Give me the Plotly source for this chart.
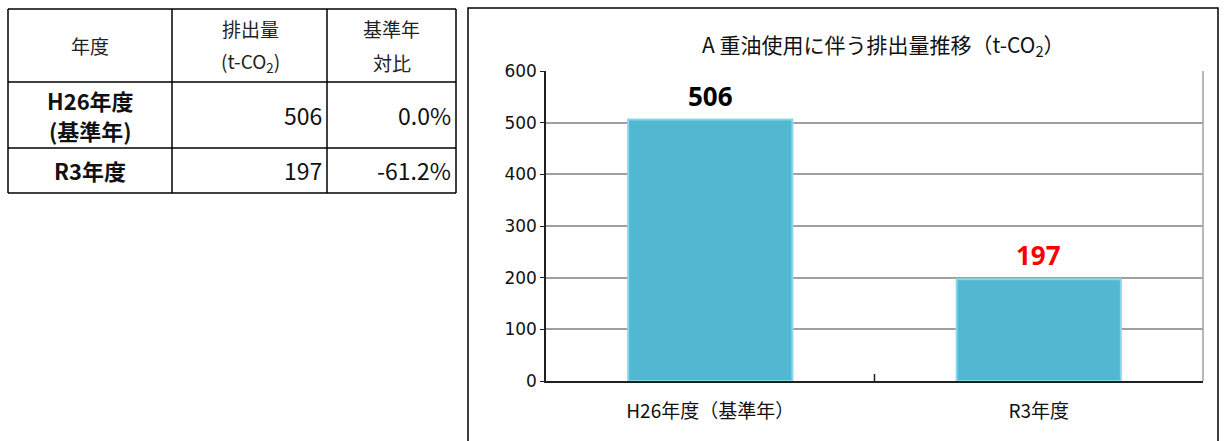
import plotly.graph_objects as go

# ---- data ----
years = ["H26年度（基準年）", "R3年度"]
emissions = [506, 197]
table_year_lines = [["H26年度", "(基準年)"], ["R3年度"]]
ratio_labels = ["0.0%", "-61.2%"]
label_colors = ["#000000", "#FF0000"]
y_ticks = [0, 100, 200, 300, 400, 500, 600]

W, H = 1227, 441


def px(x):
    return x / W


def py(y):
    return 1 - y / H


JP = "Noto Sans CJK JP, Noto Sans, sans-serif"
TICK = "DejaVu Sans, Noto Sans, sans-serif"

fig = go.Figure()

fig.add_trace(go.Bar(
    x=years,
    y=emissions,
    width=0.5,
    marker=dict(color="#52B7D1", line=dict(color="#86D9EC", width=2)),
    showlegend=False,
    hoverinfo="skip",
))

# value labels above the bars
for cat, val, col in zip(years, emissions, label_colors):
    fig.add_annotation(
        x=cat, y=val, xref="x", yref="y", text=f"<b>{val}</b>",
        showarrow=False, yanchor="middle", yshift=24,
        font=dict(family="Noto Sans, sans-serif", size=26, color=col),
    )

shapes = []
annotations = []

# chart frame
shapes.append(dict(type="rect", xref="paper", yref="paper",
                   x0=px(468), x1=px(1218), y0=py(470), y1=py(8),
                   line=dict(color="#000000", width=1.5)))

# chart title
annotations.append(dict(
    x=px(883), y=py(45),
    text="A 重油使用に伴う排出量推移（t-CO<sub>2</sub>）",
    font=dict(family=JP, size=21, color="#111111"),
))

# middle tick on the category axis
shapes.append(dict(type="line", xref="paper", yref="paper",
                   x0=px(874.5), x1=px(874.5), y0=py(381), y1=py(374),
                   line=dict(color="#202020", width=1.5)))

# ---- summary table ----
col_x = [8, 172, 327, 456]
row_y = [9, 82, 148, 193]
for x in col_x:
    shapes.append(dict(type="line", xref="paper", yref="paper",
                       x0=px(x), x1=px(x), y0=py(row_y[0]), y1=py(row_y[-1]),
                       line=dict(color="#000000", width=1.5)))
for y in row_y:
    shapes.append(dict(type="line", xref="paper", yref="paper",
                       x0=px(col_x[0]), x1=px(col_x[-1]), y0=py(y), y1=py(y),
                       line=dict(color="#000000", width=1.5)))

header_font = dict(family=JP, size=19, color="#222222")
body_bold = dict(family=JP, size=22, color="#111111")
body_font = dict(family=JP, size=23, color="#111111")

annotations.append(dict(x=px(90), y=py(45), text="年度", font=header_font))
annotations.append(dict(x=px(250), y=py(28), text="排出量", font=header_font))
annotations.append(dict(x=px(250), y=py(62), text="(t-CO<sub>2</sub>)", font=header_font))
annotations.append(dict(x=px(392), y=py(28), text="基準年", font=header_font))
annotations.append(dict(x=px(392), y=py(62), text="対比", font=header_font))

row_centers = [115, 170]
line_gap = 30
for lines, val, ratio, yc in zip(table_year_lines, emissions, ratio_labels, row_centers):
    top = yc - line_gap * (len(lines) - 1) / 2
    for i, ln in enumerate(lines):
        annotations.append(dict(x=px(90), y=py(top + i * line_gap),
                                text=f"<b>{ln}</b>", font=body_bold))
    annotations.append(dict(x=px(324), y=py(yc), text=f"{val}", font=body_font,
                            xanchor="right"))
    annotations.append(dict(x=px(453), y=py(yc), text=ratio, font=body_font,
                            xanchor="right"))

for a in annotations:
    a.setdefault("xref", "paper")
    a.setdefault("yref", "paper")
    a.setdefault("showarrow", False)
    a.setdefault("xanchor", "center")
    a.setdefault("yanchor", "middle")
    fig.add_annotation(**a)

fig.update_layout(
    template="none",
    width=W, height=H,
    margin=dict(l=0, r=0, t=0, b=0, autoexpand=False),
    paper_bgcolor="#FFFFFF",
    plot_bgcolor="#FFFFFF",
    shapes=shapes,
    xaxis=dict(
        domain=[px(546), px(1203)],
        automargin=False,
        showline=True, linecolor="#202020", linewidth=1.5,
        showgrid=False, zeroline=False,
        ticks="", ticklabelstandoff=12,
        tickfont=dict(family=JP, size=19, color="#111111"),
    ),
    yaxis=dict(
        domain=[py(381), py(71)],
        automargin=False,
        range=[0, 600], tickvals=y_ticks,
        showgrid=True, gridcolor="#A0A0A0", gridwidth=1.5,
        showline=True, linecolor="#202020", linewidth=1.5,
        ticks="outside", ticklen=4, tickcolor="#202020",
        tickfont=dict(family=TICK, size=17, color="#111111"),
        zeroline=False,
    ),
)

# right border of the plot area
fig.add_shape(type="line", xref="paper", yref="paper",
              x0=px(1203), x1=px(1203), y0=py(381), y1=py(71),
              line=dict(color="#A0A0A0", width=1.5))

fig.write_html("out.html")
